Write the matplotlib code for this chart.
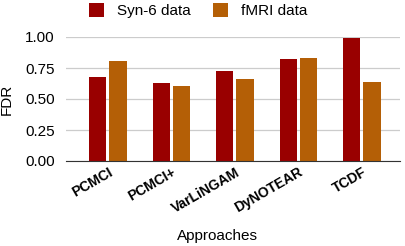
import numpy as np
import matplotlib
matplotlib.use("Agg")
import matplotlib.pyplot as plt

approaches = ["PCMCI", "PCMCI+", "VarLiNGAM", "DyNOTEAR", "TCDF"]
syn6 = [0.68, 0.63, 0.725, 0.82, 0.995]
fmri = [0.81, 0.605, 0.66, 0.83, 0.64]

plt.rcParams["font.family"] = ["Liberation Sans", "DejaVu Sans"]

fig = plt.figure(figsize=(4.05, 2.46), dpi=100)
ax = fig.add_axes([66 / 405, 1 - 161 / 246, 334 / 405, 124 / 246])

x = np.arange(len(approaches))
w = 0.27
ax.bar(x - w / 2 - 0.025, syn6, w, color="#990000", label="Syn-6 data", zorder=3)
ax.bar(x + w / 2 + 0.025, fmri, w, color="#b45f06", label="fMRI data", zorder=3)

ax.set_ylim(0, 1.0)
ax.set_xlim(-0.66, 4.6)
ax.set_yticks([0, 0.25, 0.5, 0.75, 1.0])
ax.set_yticklabels(["0.00", "0.25", "0.50", "0.75", "1.00"], fontsize=11)
ax.yaxis.grid(True, color="#cccccc", linewidth=0.9, zorder=0)
ax.tick_params(axis="y", length=0, pad=8)
ax.tick_params(axis="x", length=0, pad=3)
ax.set_xticks(x)
ax.set_xticklabels(approaches, rotation=30, ha="right", rotation_mode="anchor",
                   fontsize=10, fontweight="bold")
for s in ["top", "right", "left"]:
    ax.spines[s].set_visible(False)
ax.spines["bottom"].set_color("#333333")
ax.spines["bottom"].set_zorder(4)

ax.set_ylabel("FDR", fontsize=11, labelpad=8)
fig.text(217 / 405, 1 - 236 / 246, "Approaches", ha="center", va="center", fontsize=11)

fig.legend(*ax.get_legend_handles_labels(), loc="upper left",
           bbox_to_anchor=(86 / 405, 1.0), ncol=2, frameon=False,
           fontsize=11, handlelength=1.0, handleheight=1.0, columnspacing=1.5,
           handletextpad=0.8, borderaxespad=0.1, borderpad=0.1)

fig.savefig("out.png", dpi=100)
